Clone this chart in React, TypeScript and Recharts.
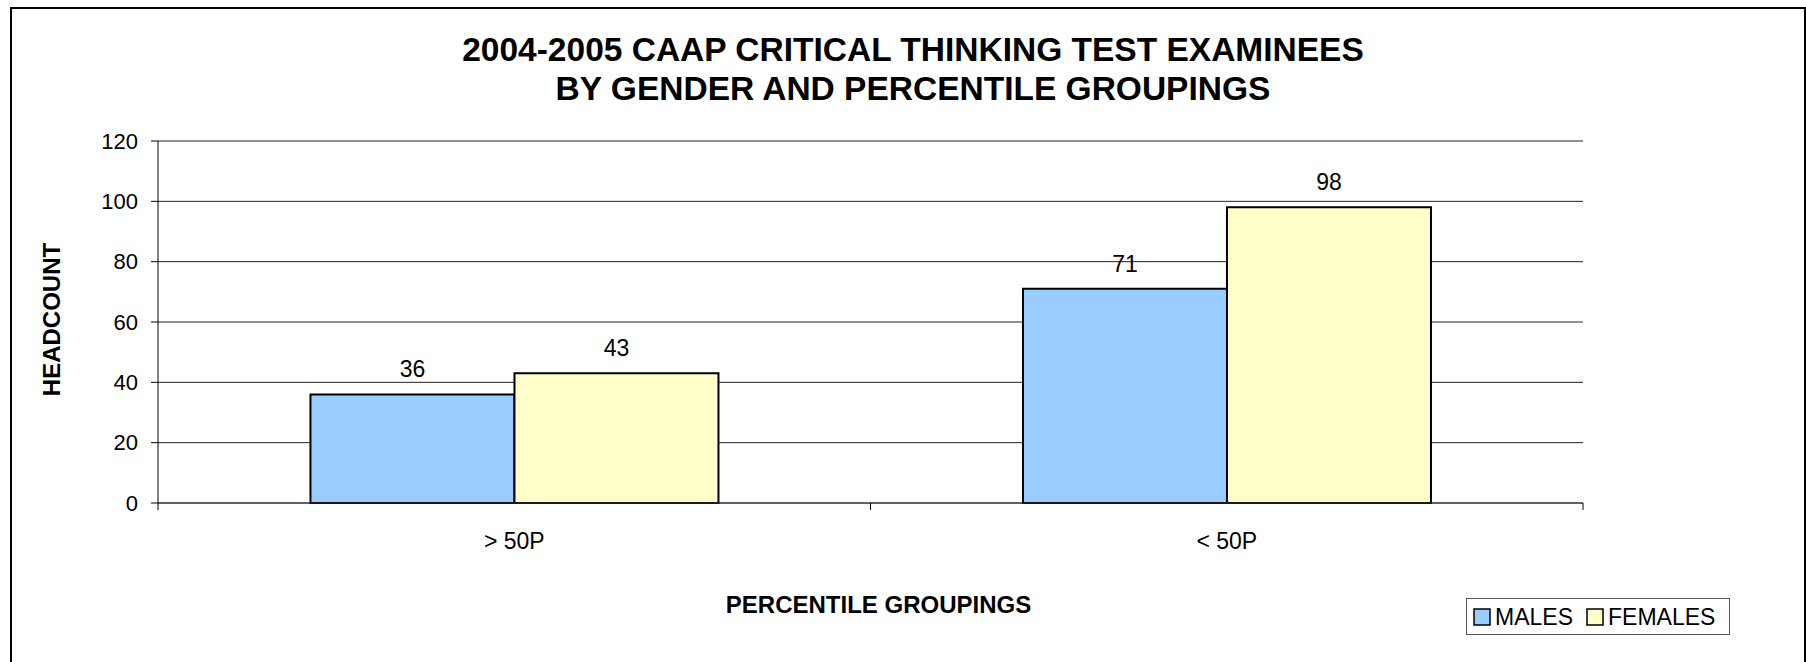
import { BarChart, Bar, XAxis, YAxis, CartesianGrid, LabelList } from "recharts";

const categories = ["> 50P", "< 50P"];
const males = [36, 71];
const females = [43, 98];
const yTicks = [0, 20, 40, 60, 80, 100, 120];

const series = [
  { key: "males", name: "MALES", color: "#99CCFF" },
  { key: "females", name: "FEMALES", color: "#FFFFCC" },
];

const data = categories.map((c, i) => ({
  category: c,
  males: males[i],
  females: females[i],
}));

const W = 1806;
const H = 662;
const FONT = "'Liberation Sans', Arial, sans-serif";
const margin = { top: 141, right: 223, left: 58, bottom: 99 };
const Y_AXIS_W = 100;
const X_AXIS_H = 60;
const PLOT_LEFT = margin.left + Y_AXIS_W;
const PLOT_RIGHT = W - margin.right;
const PLOT_BOTTOM = H - margin.bottom - X_AXIS_H;

// x ticks sit on the category boundaries, labels in the middle
const CategoryTick = (props: any) => {
  const { x, payload, index } = props;
  const fallback = (PLOT_RIGHT - PLOT_LEFT) / categories.length / 2;
  const half = payload && payload.offset > 0 ? payload.offset : fallback;
  const left = x - half;
  const right = x + half;
  return (
    <g>
      <line x1={left} x2={left} y1={PLOT_BOTTOM} y2={PLOT_BOTTOM + 7} stroke="#000" />
      {index === categories.length - 1 && (
        <line x1={right} x2={right} y1={PLOT_BOTTOM} y2={PLOT_BOTTOM + 7} stroke="#000" />
      )}
      <text x={x} y={PLOT_BOTTOM + 46} textAnchor="middle" fontSize={23} fontFamily={FONT} fill="#000">
        {payload.value}
      </text>
    </g>
  );
};

const App = () => {
  return (
    <div style={{ position: "absolute", left: 0, top: 0, width: W, height: H, background: "#fff", overflow: "hidden" }}>
      <BarChart
        width={W}
        height={H}
        data={data}
        margin={margin}
        barGap={0}
        barCategoryGap="21.4%"
      >
        <CartesianGrid vertical={false} stroke="#222" strokeWidth={1} />
        <XAxis
          dataKey="category"
          height={X_AXIS_H}
          axisLine={{ stroke: "#333" }}
          tickLine={false}
          tick={<CategoryTick />}
          interval={0}
        />
        <YAxis
          width={Y_AXIS_W}
          domain={[0, 120]}
          ticks={yTicks}
          interval={0}
          axisLine={{ stroke: "#000" }}
          tickLine={{ stroke: "#000" }}
          tickSize={7}
          tickMargin={13}
          tick={{ fill: "#000", fontSize: 22, fontFamily: FONT }}
        />
        {series.map((s) => (
          <Bar
            key={s.key}
            dataKey={s.key}
            name={s.name}
            fill={s.color}
            stroke="#000"
            strokeWidth={2}
            isAnimationActive={false}
          >
            <LabelList
              dataKey={s.key}
              position="top"
              offset={17}
              fill="#000"
              fontSize={23}
              fontFamily={FONT}
            />
          </Bar>
        ))}
      </BarChart>

      <svg width={W} height={H} style={{ position: "absolute", left: 0, top: 0, pointerEvents: "none" }}>
        <rect x={11} y={8} width={1794} height={700} fill="none" stroke="#000" strokeWidth={2} />
        <text x={913} y={61} textAnchor="middle" fontSize={33.5} fontWeight="bold" fontFamily={FONT} fill="#000">
          2004-2005 CAAP CRITICAL THINKING TEST EXAMINEES
        </text>
        <text x={913} y={100} textAnchor="middle" fontSize={33.5} fontWeight="bold" fontFamily={FONT} fill="#000">
          BY GENDER AND PERCENTILE GROUPINGS
        </text>
        <text
          x={60}
          y={319.5}
          transform="rotate(-90, 60, 319.5)"
          textAnchor="middle"
          fontSize={24}
          fontWeight="bold"
          fontFamily={FONT}
          fill="#000"
        >
          HEADCOUNT
        </text>
        <text x={878.5} y={613} textAnchor="middle" fontSize={24} fontWeight="bold" fontFamily={FONT} fill="#000">
          PERCENTILE GROUPINGS
        </text>

        {/* legend */}
        <rect x={1466.5} y={598.5} width={263} height={36} fill="#fff" stroke="#555" strokeWidth={1} />
        {series.map((s, i) => {
          const sx = i === 0 ? 1474 : 1587;
          return (
            <g key={s.key}>
              <rect x={sx} y={609} width={16} height={16} fill={s.color} stroke="#000" strokeWidth={1.5} />
              <text x={sx + 21} y={625} fontSize={23} fontFamily={FONT} fill="#000">
                {s.name}
              </text>
            </g>
          );
        })}
      </svg>
    </div>
  );
};

export default App;
